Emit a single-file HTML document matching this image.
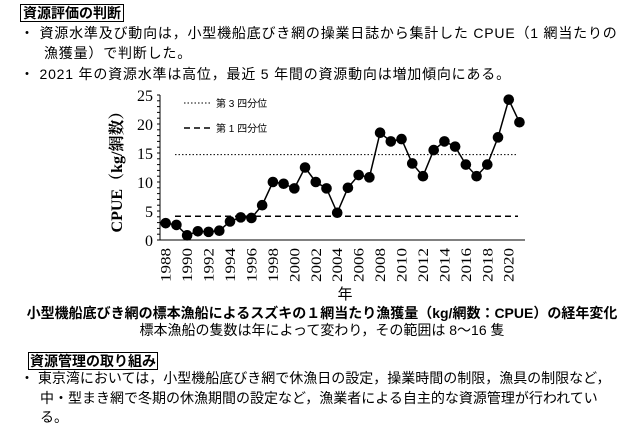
<!DOCTYPE html>
<html><head><meta charset="utf-8"><style>
body{margin:0;width:644px;height:432px;background:#fff;position:relative;overflow:hidden;font-family:"Liberation Sans","Noto Sans CJK JP",sans-serif;color:#000}
.t{position:absolute;white-space:nowrap;font-size:14px;line-height:16px}
.h{position:absolute;font-weight:bold;font-size:14px;line-height:16px;border:1.5px solid #000;padding:0 2px}
</style></head><body>
<div class="h" style="left:20px;top:4px">資源評価の判断</div>
<div class="t" style="left:20px;top:25px;letter-spacing:0.8px">・ 資源水準及び動向は，小型機船底びき網の操業日誌から集計した CPUE（1 網当たりの</div>
<div class="t" style="left:44px;top:45px;letter-spacing:0.8px">漁獲量）で判断した。</div>
<div class="t" style="left:20px;top:66px;letter-spacing:0.8px">・ 2021 年の資源水準は高位，最近 5 年間の資源動向は増加傾向にある。</div>
<svg style="position:absolute;left:0;top:0" width="644" height="432">
<g font-family="Liberation Serif,serif" font-size="16" text-anchor="end">
<line x1="160" y1="95" x2="160" y2="240" stroke="#000"/>
<line x1="160" y1="240" x2="525" y2="240" stroke="#000"/>
<text x="153" y="246">0</text><text x="153" y="217">5</text><text x="153" y="188">10</text><text x="153" y="159">15</text><text x="153" y="130">20</text><text x="153" y="101">25</text>
</g>
<g id="tk" stroke="#000"></g>
<line x1="175" y1="154.6" x2="518" y2="154.6" stroke="#000" stroke-dasharray="1.5,2"/>
<line x1="175" y1="216.2" x2="518" y2="216.2" stroke="#000" stroke-width="1.5" stroke-dasharray="6,4"/>
<line x1="184" y1="103" x2="212" y2="103" stroke="#000" stroke-dasharray="1.5,2"/>
<line x1="184" y1="128" x2="212" y2="128" stroke="#000" stroke-width="1.5" stroke-dasharray="6,4"/>
<text x="216" y="107" font-size="10">第 3 四分位</text>
<text x="216" y="132" font-size="10">第 1 四分位</text>
<polyline id="pl" fill="none" stroke="#000" stroke-width="1.5"/>
<g id="pts"></g>
<g id="yrs" font-family="Liberation Serif,serif" font-size="15"></g>
<text x="0" y="0" transform="translate(122,168) rotate(-90)" text-anchor="middle" font-family="Liberation Serif,'Noto Serif CJK SC',serif" font-weight="bold" font-size="16">CPUE（kg/網数）</text>
<text x="345" y="299" font-size="15" text-anchor="middle">年</text>
</svg>
<div class="t" style="left:0;width:644px;text-align:center;top:305px;font-weight:bold;font-size:14px">小型機船底びき網の標本漁船によるスズキの１網当たり漁獲量（kg/網数：CPUE）の経年変化</div>
<div class="t" style="left:0;width:644px;text-align:center;top:322px;font-size:14px">標本漁船の隻数は年によって変わり，その範囲は 8～16 隻</div>
<div class="h" style="left:28px;top:352px;padding:0 1px">資源管理の取り組み</div>
<div class="t" style="left:20px;top:370px">・ 東京湾においては，小型機船底びき網で休漁日の設定，操業時間の制限，漁具の制限など，</div>
<div class="t" style="left:40px;top:390px">中・型まき網で冬期の休漁期間の設定など，漁業者による自主的な資源管理が行われてい</div>
<div class="t" style="left:40px;top:409px">る。</div>
<script>
var d=[2.9,2.6,0.8,1.5,1.4,1.6,3.2,3.9,3.8,6,10,9.7,8.9,12.5,10,8.9,4.7,9,11.2,10.8,18.5,17,17.4,13.2,11,15.5,17,16.1,13,11,13,17.7,24.2,20.3];
var ns="http://www.w3.org/2000/svg",p=[],g=document.getElementById('pts'),y=document.getElementById('yrs'),tk=document.getElementById('tk');
d.forEach(function(v,i){var x=165.7+i*10.72,yy=240-v*5.8;p.push(x+','+yy);
var c=document.createElementNS(ns,'circle');c.setAttribute('cx',x);c.setAttribute('cy',yy);c.setAttribute('r',5.3);g.appendChild(c);
if(i%2==0){var t=document.createElementNS(ns,'text');t.setAttribute('transform','translate('+(x+5)+',248) rotate(-90)');t.setAttribute('text-anchor','end');t.setAttribute('textLength','34');t.setAttribute('lengthAdjust','spacingAndGlyphs');t.textContent=1988+i;y.appendChild(t);}});
for(var k=0;k<=25;k++){var l=document.createElementNS(ns,'line');l.setAttribute('x1',157);l.setAttribute('x2',160);l.setAttribute('y1',240-k*5.8);l.setAttribute('y2',240-k*5.8);tk.appendChild(l);}
document.getElementById('pl').setAttribute('points',p.join(' '));
</script>
</body></html>
